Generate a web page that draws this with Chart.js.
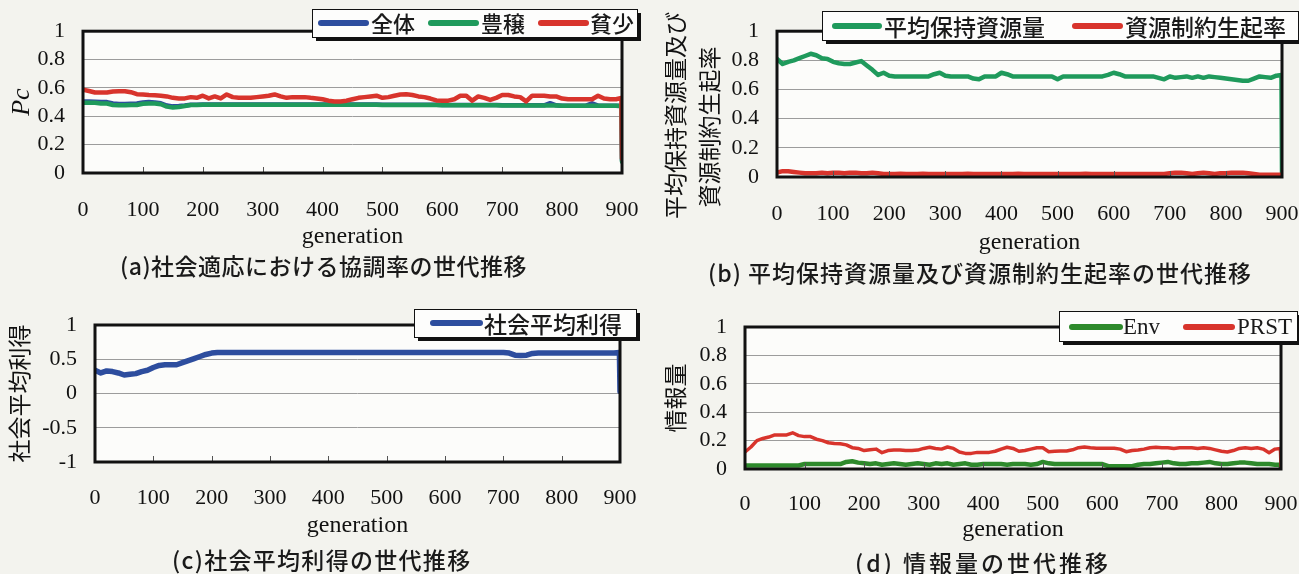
<!DOCTYPE html>
<html lang="ja">
<head>
<meta charset="utf-8">
<title>世代推移</title>
<script src="https://cdn.jsdelivr.net/npm/chart.js@4.4.0/dist/chart.umd.min.js"></script>
<style>
  body { margin: 0; width: 1299px; height: 574px; background: #f3f3ee; position: relative; overflow: hidden; }
  canvas { position: absolute; }
  .caption { position: absolute; font-family: "Noto Sans CJK JP", sans-serif; font-size: 23px; font-weight: 500; line-height: 1; color: #1a1a1a; white-space: nowrap; }
</style>
</head>
<body>
<canvas id="chartA" width="650" height="260" style="left:0;top:0"></canvas>
<canvas id="chartB" width="649" height="260" style="left:650px;top:0"></canvas>
<canvas id="chartC" width="650" height="260" style="left:0;top:290px"></canvas>
<canvas id="chartD" width="649" height="260" style="left:650px;top:290px"></canvas>

<div class="caption" style="left:120px;top:254px;letter-spacing:0.5px">(a)社会適応における協調率の世代推移</div>
<div class="caption" style="left:708px;top:261px;letter-spacing:1px">(b) 平均保持資源量及び資源制約生起率の世代推移</div>
<div class="caption" style="left:172px;top:548px;letter-spacing:1.3px">(c)社会平均利得の世代推移</div>
<div class="caption" style="left:855px;top:551px;letter-spacing:3px">(d) 情報量の世代推移</div>

<script>
// generation axis (sampled every 10, plus the final two generations)
var generations = [
  0, 10, 20, 30, 40, 50, 60, 70, 80, 90,
  100, 110, 120, 130, 140, 150, 160, 170, 180, 190,
  200, 210, 220, 230, 240, 250, 260, 270, 280, 290,
  300, 310, 320, 330, 340, 350, 360, 370, 380, 390,
  400, 410, 420, 430, 440, 450, 460, 470, 480, 490,
  500, 510, 520, 530, 540, 550, 560, 570, 580, 590,
  600, 610, 620, 630, 640, 650, 660, 670, 680, 690,
  700, 710, 720, 730, 740, 750, 760, 770, 780, 790,
  800, 810, 820, 830, 840, 850, 860, 870, 880, 890,
  899, 900
];

// (a) cooperation rate Pc
var pcAll = [
  .505, .505, .503, .500, .500, .490, .486, .486, .488, .490,
  .497, .500, .498, .492, .476, .470, .472, .476, .482, .482,
  .483, .483, .483, .483, .483, .483, .483, .483, .483, .483,
  .483, .483, .483, .483, .483, .483, .483, .483, .483, .483,
  .483, .483, .483, .483, .483, .483, .483, .483, .483, .483,
  .481, .481, .481, .481, .481, .481, .481, .481, .481, .481,
  .479, .479, .479, .479, .479, .479, .479, .479, .479, .479,
  .477, .477, .477, .477, .477, .477, .477, .477, .492, .477,
  .475, .475, .475, .475, .475, .492, .475, .475, .475, .475,
  .473, .090
];
var pcRich = [
  .495, .495, .495, .490, .490, .480, .478, .478, .480, .480,
  .488, .490, .490, .485, .468, .462, .465, .472, .480, .480,
  .482, .482, .482, .482, .482, .482, .482, .482, .482, .482,
  .482, .482, .482, .482, .482, .482, .482, .482, .482, .482,
  .482, .482, .482, .482, .482, .482, .482, .482, .482, .482,
  .480, .480, .480, .480, .480, .480, .480, .480, .480, .480,
  .478, .478, .478, .478, .478, .478, .478, .478, .478, .478,
  .476, .476, .476, .476, .476, .476, .476, .476, .476, .476,
  .474, .474, .474, .474, .474, .474, .474, .474, .474, .474,
  .472, .080
];
var pcPoor = [
  .588, .578, .568, .568, .568, .575, .577, .577, .570, .556,
  .553, .550, .548, .545, .540, .530, .526, .526, .535, .530,
  .545, .526, .540, .526, .554, .535, .530, .530, .530, .535,
  .540, .545, .554, .540, .530, .535, .535, .535, .530, .526,
  .520, .510, .505, .505, .510, .520, .530, .535, .540, .545,
  .530, .535, .545, .554, .555, .550, .540, .535, .525, .512,
  .510, .510, .520, .545, .545, .510, .540, .530, .515, .530,
  .550, .550, .540, .535, .505, .545, .545, .545, .540, .540,
  .525, .520, .520, .520, .520, .520, .545, .525, .520, .520,
  .530, .100
];

// (b) mean held resources and resource-constraint rate
var avgResource = [
  .810, .775, .790, .800, .815, .830, .845, .835, .815, .810,
  .790, .780, .775, .775, .785, .795, .765, .735, .700, .715,
  .695, .690, .690, .690, .690, .690, .690, .690, .705, .715,
  .695, .690, .690, .690, .690, .675, .670, .690, .690, .690,
  .715, .705, .690, .690, .690, .690, .690, .690, .690, .690,
  .670, .690, .690, .690, .690, .690, .690, .690, .690, .700,
  .715, .705, .690, .690, .690, .690, .690, .690, .680, .670,
  .690, .680, .685, .690, .680, .690, .680, .690, .685, .680,
  .675, .670, .665, .660, .660, .675, .690, .685, .680, .695,
  .700, .030
];
var constraintRate = [
  .030, .040, .040, .035, .030, .025, .025, .025, .030, .025,
  .030, .030, .025, .030, .030, .025, .025, .030, .025, .020,
  .020, .020, .022, .020, .020, .020, .022, .020, .020, .020,
  .020, .020, .020, .020, .022, .020, .020, .020, .020, .020,
  .020, .020, .020, .022, .020, .020, .020, .020, .020, .020,
  .020, .020, .020, .020, .020, .022, .020, .020, .020, .020,
  .020, .020, .020, .020, .020, .020, .020, .020, .020, .020,
  .025, .030, .030, .025, .020, .025, .030, .025, .020, .025,
  .025, .030, .030, .030, .025, .020, .015, .015, .015, .015,
  .015, .010
];

// (c) mean social payoff
var socialGain = [
  .34, .30, .33, .32, .30, .27, .28, .29, .32, .34,
  .38, .41, .42, .42, .42, .45, .48, .51, .54, .57,
  .59, .60, .60, .60, .60, .60, .60, .60, .60, .60,
  .60, .60, .60, .60, .60, .60, .60, .60, .60, .60,
  .60, .60, .60, .60, .60, .60, .60, .60, .60, .60,
  .60, .60, .60, .60, .60, .60, .60, .60, .60, .60,
  .60, .60, .60, .60, .60, .60, .60, .60, .60, .60,
  .60, .59, .56, .555, .56, .585, .59, .59, .59, .59,
  .59, .59, .59, .59, .59, .59, .59, .59, .59, .59,
  .60, .03
];

// (d) information amount
var infoEnv = [
  .025, .025, .025, .025, .025, .025, .025, .025, .025, .025,
  .035, .035, .035, .035, .035, .035, .035, .050, .055, .045,
  .040, .035, .040, .030, .035, .040, .035, .030, .035, .040,
  .035, .030, .040, .035, .040, .030, .035, .040, .030, .030,
  .035, .035, .035, .035, .030, .035, .035, .035, .030, .035,
  .050, .040, .035, .035, .035, .035, .035, .035, .035, .035,
  .035, .020, .020, .020, .020, .020, .030, .035, .035, .040,
  .045, .050, .040, .035, .035, .040, .040, .045, .050, .040,
  .035, .035, .040, .045, .045, .040, .035, .035, .035, .030,
  .030, .000
];
var infoPrst = [
  .120, .155, .200, .215, .225, .240, .240, .240, .255, .235,
  .228, .228, .210, .200, .185, .180, .178, .170, .150, .145,
  .130, .135, .140, .115, .130, .133, .133, .130, .130, .133,
  .145, .153, .145, .140, .155, .145, .120, .110, .110, .117,
  .117, .117, .125, .140, .153, .145, .125, .130, .140, .150,
  .150, .122, .125, .127, .127, .135, .150, .155, .150, .146,
  .146, .146, .146, .140, .122, .130, .134, .140, .150, .153,
  .150, .150, .145, .150, .150, .150, .145, .150, .145, .135,
  .125, .120, .130, .145, .150, .145, .150, .140, .115, .140,
  .145, .020
];

var BLUE = '#2d4d9e', GREEN = '#1f9a5c', RED = '#d8342c', ENV_GREEN = '#2e8a2c';
var SERIF = '"Liberation Serif", "Times New Roman", serif';
var CJK = '"Noto Sans CJK JP", sans-serif';

function points(values) {
  return generations.map(function (g, i) { return { x: g, y: values[i] }; });
}

function series(label, values, color, width, order) {
  return {
    label: label,
    data: points(values),
    borderColor: color,
    backgroundColor: color,
    borderWidth: width,
    pointRadius: 0,
    tension: 0,
    borderJoinStyle: 'round',
    borderCapStyle: 'round',
    order: order
  };
}

function tickLabel(v) { return String(Math.round(v * 10) / 10); }

// white plot face, thick black frame and short inner ticks along the bottom
var plotFrame = {
  id: 'plotFrame',
  beforeDraw: function (chart) {
    var a = chart.chartArea, ctx = chart.ctx;
    ctx.save();
    ctx.fillStyle = '#fcfcfa';
    ctx.fillRect(a.left, a.top, a.right - a.left, a.bottom - a.top);
    ctx.restore();
  },
  afterDatasetsDraw: function (chart) {
    var a = chart.chartArea, ctx = chart.ctx, x = chart.scales.x;
    ctx.save();
    ctx.strokeStyle = '#555';
    ctx.lineWidth = 1;
    ctx.beginPath();
    x.ticks.forEach(function (t) {
      var px = Math.round(x.getPixelForValue(t.value)) + 0.5;
      ctx.moveTo(px, a.bottom);
      ctx.lineTo(px, a.bottom - 6);
    });
    ctx.stroke();
    ctx.strokeStyle = '#111';
    ctx.lineWidth = 3;
    ctx.strokeRect(a.left, a.top, a.right - a.left, a.bottom - a.top);
    ctx.restore();
  }
};

// legend in a framed box with a drop shadow
var boxLegend = {
  id: 'boxLegend',
  afterDraw: function (chart, args, o) {
    var ctx = chart.ctx;
    ctx.save();
    ctx.fillStyle = '#111';
    ctx.fillRect(o.x + 4, o.y + 4, o.w, o.h);
    ctx.fillStyle = '#fdfdfc';
    ctx.fillRect(o.x, o.y, o.w, o.h);
    ctx.strokeStyle = '#111';
    ctx.lineWidth = 1;
    ctx.strokeRect(o.x + 0.5, o.y + 0.5, o.w, o.h);
    ctx.textBaseline = 'middle';
    ctx.font = o.font;
    chart.data.datasets.forEach(function (ds, i) {
      var it = o.items[i];
      ctx.strokeStyle = ds.borderColor;
      ctx.lineWidth = 6;
      ctx.lineCap = 'round';
      ctx.beginPath();
      ctx.moveTo(it[0], o.lineY);
      ctx.lineTo(it[1], o.lineY);
      ctx.stroke();
      ctx.fillStyle = '#1a1a1a';
      ctx.fillText(ds.label, it[2], o.lineY + 1);
    });
    ctx.restore();
  }
};

function makeChart(id, cfg) {
  return new Chart(document.getElementById(id), {
    type: 'line',
    data: { datasets: cfg.datasets },
    plugins: [plotFrame, boxLegend],
    options: {
      responsive: false,
      animation: false,
      layout: { padding: { left: 0, top: cfg.top, right: cfg.right, bottom: 0 } },
      plugins: {
        legend: { display: false },
        tooltip: { enabled: false },
        boxLegend: cfg.legend
      },
      scales: {
        x: {
          type: 'linear',
          min: 0,
          max: 900,
          // hidden tick marks give the label gap without widening the side padding
          grid: { display: false, drawTicks: true, tickLength: cfg.xGap },
          border: { display: false },
          ticks: { stepSize: 100, autoSkip: false, maxRotation: 0, padding: 0, color: '#111', font: { family: SERIF, size: 22 }, callback: function (v) { return String(v); } },
          title: { display: true, text: 'generation', color: '#111', font: { family: SERIF, size: 24 }, padding: { top: 0, bottom: cfg.xTitlePad } },
          afterFit: function (s) { s.height = cfg.xHeight; }
        },
        y: {
          min: cfg.yMin,
          max: 1,
          grid: { color: '#9c9c9c', lineWidth: 1, drawTicks: false },
          border: { display: false },
          ticks: { stepSize: cfg.yStep, autoSkip: false, padding: 18, color: '#111', font: { family: SERIF, size: 22 }, callback: tickLabel },
          title: cfg.yTitle,
          afterFit: function (s) { s.width = cfg.yWidth; }
        }
      }
    }
  });
}

Chart.defaults.color = '#111';

makeChart('chartA', {
  datasets: [
    series('全体', pcAll, BLUE, 4.5, 3),
    series('豊穣', pcRich, GREEN, 4.5, 2),
    series('貧少', pcPoor, RED, 4.5, 1)
  ],
  top: 28, right: 28, yWidth: 83, yMin: 0, yStep: 0.2,
  xHeight: 87, xGap: 24, xTitlePad: 8.6,
  yTitle: { display: true, text: 'Pc', color: '#111', font: { family: SERIF, size: 26, style: 'italic', lineHeight: 1.2 }, padding: { top: 6.4, bottom: 0 } },
  legend: { x: 312, y: 9, w: 325, h: 28, lineY: 23, font: '500 22px ' + CJK,
            items: [[321, 366, 371], [431, 476, 481], [541, 586, 590]] }
});

makeChart('chartB', {
  datasets: [
    series('平均保持資源量', avgResource, GREEN, 4.5, 2),
    series('資源制約生起率', constraintRate, RED, 4.5, 1)
  ],
  top: 30, right: 17, yWidth: 127, yMin: 0, yStep: 0.2,
  xHeight: 83, xGap: 24, xTitlePad: 2.6,
  // trailing ideographic spaces push both columns down a little
  yTitle: { display: true, text: ['平均保持資源量及び\u3000', '資源制約生起率\u3000\u3000'], color: '#111', font: { family: CJK, size: 23, lineHeight: 1.5 }, padding: { top: 7.75, bottom: 0 } },
  legend: { x: 172, y: 11, w: 476, h: 29, lineY: 26, font: '500 23px ' + CJK,
            items: [[185, 229, 234], [425, 470, 475]] }
});

makeChart('chartC', {
  datasets: [
    series('社会平均利得', socialGain, BLUE, 5.5, 1)
  ],
  top: 35, right: 30, yWidth: 95, yMin: -1, yStep: 0.5,
  xHeight: 88, xGap: 22.8, xTitlePad: 9.6,
  yTitle: { display: true, text: '社会平均利得', color: '#111', font: { family: CJK, size: 23, lineHeight: 1.2 }, padding: { top: 5.2, bottom: 0 } },
  legend: { x: 414, y: 19, w: 222, h: 28, lineY: 33, font: '500 23px ' + CJK,
            items: [[433, 480, 484]] }
});

makeChart('chartD', {
  datasets: [
    series('Env', infoEnv, ENV_GREEN, 4.5, 2),
    series('PRST', infoPrst, RED, 3.5, 1)
  ],
  top: 37, right: 18, yWidth: 95, yMin: 0, yStep: 0.2,
  xHeight: 81, xGap: 21.8, xTitlePad: 5.6,
  yTitle: { display: true, text: '情報量', color: '#111', font: { family: CJK, size: 23, lineHeight: 1.2 }, padding: { top: 11.2, bottom: 0 } },
  legend: { x: 409, y: 21, w: 238, h: 30, lineY: 37, font: '23px ' + SERIF,
            items: [[422, 470, 473], [536, 582, 587]] }
});
</script>
</body>
</html>
